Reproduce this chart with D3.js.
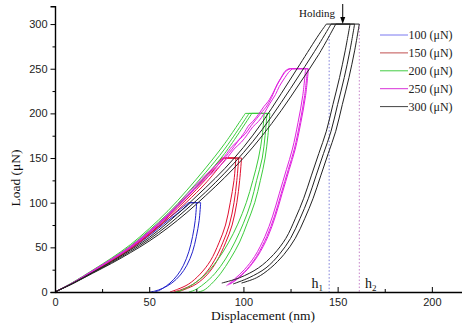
<!DOCTYPE html>
<html>
<head>
<meta charset="utf-8">
<script src="https://cdn.jsdelivr.net/npm/d3@7"></script>
<style>
  html, body { margin: 0; padding: 0; background: #fff; }
  svg { display: block; }
</style>
</head>
<body>
<svg id="chart" width="462" height="324"></svg>
<script>
// Nanoindentation load–displacement loops at five peak loads.
// Each curve: loading branch [h (nm), P (μN)], then unloading branch from end of hold.

const peakLoads = [100, 150, 200, 250, 300];
const legendLabels = ["100 (\u03bcN)", "150 (\u03bcN)", "200 (\u03bcN)", "250 (\u03bcN)", "300 (\u03bcN)"];
const xTicks = [0, 50, 100, 150, 200];
const yTicks = [0, 50, 100, 150, 200, 250, 300];

const load100 = [
  [[0,0],[10,11],[20,23],[30,35.5],[40,49],[50,65],[60,82],[66,92],[70.8,100]],
  [[0,0],[10,10.5],[20,22.5],[30,34.5],[40,48],[50,63],[60,80],[67,91],[72,100]]
];
const unload100 = [
  [[77.3,100],[76.5,80],[75,62],[73,45],[70,30],[66.5,19],[62,10],[57,4],[53,1],[50.5,0]],
  [[75.2,100],[74.4,80],[73,62],[71,45],[68.2,30],[65,19],[61,10],[57.5,4.5],[55,1.5],[53,0]]
];

const load150 = [
  [[0,0],[10,11],[20,23.5],[30,36],[40,50],[50,67],[60,86],[70,107],[80,129],[88.5,150]],
  [[0,0],[10,10.5],[20,23],[30,35],[40,49],[50,65],[60,84],[70,104],[80,126],[89.5,150]],
  [[0,0],[10,10.5],[20,22.5],[30,34.5],[40,48],[50,64],[60,82],[70,101],[80,122],[91,150]]
];
const unload150 = [
  [[99,150],[98,125],[96.5,100],[94,75],[90.5,55],[86,35],[81,20],[75,9],[69,3],[65,0]],
  [[97.5,150],[96.5,125],[95,100],[92.5,75],[89,55],[84.5,35],[79.5,20],[73.5,9],[67.5,3],[63,0]],
  [[96,150],[95,125],[93,100],[90.5,75],[87,55],[82.5,35],[77,20],[71,9],[65,3],[61,0]]
];

const load200 = [
  [[0,0],[10,11.5],[20,24.5],[30,38],[40,53],[50,71],[60,91],[70,114],[80,139],[90,166],[101,200]],
  [[0,0],[10,11],[20,24],[30,37],[40,51.5],[50,69],[60,88],[70,110],[80,134],[90,160],[103,200]],
  [[0,0],[10,11],[20,23.5],[30,36],[40,50],[50,67],[60,86],[70,107],[80,130],[90,155],[104.5,200]]
];
const unload200 = [
  [[114,200],[113,175],[111.5,150],[109,125],[106,100],[102,77],[98,56],[93,37],[88,21],[83,9],[79,2],[76,0]],
  [[112.5,200],[111.5,175],[110,150],[107,125],[104,100],[100,77],[95.5,56],[90.5,37],[85,21],[79,9],[74,2],[71,0]],
  [[111,200],[110,175],[108,150],[105,125],[101.5,100],[97,76],[92,55],[86,35],[79,18],[72,7],[66,1],[64,0]]
];

const load250 = [
  [[0,0],[10,11],[20,24],[30,37],[40,51],[50,68],[60,87],[70,109],[78,127],[85,141],[90,152],[94,163],[97,169],[100,177],[103,187],[105,191],[108,199],[111,208],[113,213],[116,224],[118,233],[120,240],[122,247],[124,250]],
  [[0,0],[10,11],[20,23.5],[30,36.5],[40,50],[50,67],[60,86],[70,107],[78,125],[85,139],[90,150],[94,160],[98,171],[101,177],[104,186],[107,194],[110,202],[112,207],[115,218],[117,228],[119,236],[121,243],[123,248],[125,250]],
  [[0,0],[10,10.5],[20,23],[30,36],[40,49.5],[50,66],[60,85],[70,106],[78,123],[86,138],[91,149],[95,160],[99,168],[102,176],[105,185],[108,191],[111,200],[114,211],[117,221],[119,230],[122,240],[124,246],[126,250]]
];
const unload250 = [
  [[134,250],[132.5,220],[130,190],[127,160],[123.8,137],[120,110],[116.5,85],[112.4,62],[107,40],[101.7,25],[96,14],[92,8]],
  [[133,250],[131.5,220],[129,190],[126,160],[122.8,137],[119,110],[115.5,85],[111.4,62],[106,40],[100.5,25],[95,14],[91,7]],
  [[134.5,250],[133,220],[130.5,190],[127.5,160],[124.3,137],[120.5,110],[117,85],[113,62],[107.5,40],[102,25],[96.5,14],[93,9]]
];

const load300 = [
  [[0,0],[10,10.5],[20,22],[30,34],[40,47],[50,61],[60,78],[70,97],[80,117],[90,138],[100,162],[110,190],[120,222],[130,255],[140,288],[144,300]],
  [[0,0],[10,10],[20,21.5],[30,33],[40,45.5],[50,59],[60,75],[70,93],[80,112],[90,133],[100,156],[110,182],[120,212],[130,244],[140,277],[146.5,300]],
  [[0,0],[10,10],[20,21],[30,32],[40,44],[50,57],[60,72],[70,89],[80,108],[90,128],[100,150],[110,175],[120,203],[130,234],[140,266],[149,300]]
];
const unload300 = [
  [[156.6,300],[154,270],[151,240],[147.5,210],[144,180],[140,155],[136,130],[132,105],[127.5,82],[122.5,60],[116,42],[108,27],[98,16],[88.5,10]],
  [[159,300],[156.5,270],[153.5,240],[150,210],[146.5,180],[142.5,155],[138.5,130],[134.5,105],[130,82],[125,60],[119,42],[112,27],[103,16],[94.5,9]],
  [[161.5,300],[159,270],[156,240],[152.5,210],[149,180],[145,155],[141,130],[137,105],[132.5,82],[127.5,60],[121.5,42],[114.5,27],[107,16],[99,10]]
];

// Marked depths h1, h2 and the holding arrow position (nm)
const depthMarks = [145.5, 161.5];
const holdingAt = 152.7;

const colors = ["#2323cc", "#e01030", "#3ccc3c", "#e020e0", "#222222"];
const legendColors = ["#7a78f0", "#c05050", "#44cc44", "#d830d8", "#444444"];
const loadSets = [load100, load150, load200, load250, load300];
const unloadSets = [unload100, unload150, unload200, unload250, unload300];

const svg = d3.select("#chart");
const x = d3.scaleLinear().domain([0, 216]).range([55, 462]);
const y = d3.scaleLinear().domain([0, 320]).range([292, 6.2]);

const smooth = d3.line().x(d => x(d[0])).y(d => y(d[1])).curve(d3.curveCatmullRom.alpha(0.5));
const straight = d3.line().x(d => x(d[0])).y(d => y(d[1]));

// Dotted depth markers
svg.append("line").attr("x1", x(depthMarks[0])).attr("x2", x(depthMarks[0]))
  .attr("y1", y(287)).attr("y2", y(0))
  .attr("stroke", "#7c7cd8").attr("stroke-width", 1).attr("stroke-dasharray", "1.5,2");
svg.append("line").attr("x1", x(depthMarks[1])).attr("x2", x(depthMarks[1]))
  .attr("y1", y(300)).attr("y2", y(0))
  .attr("stroke", "#c580c8").attr("stroke-width", 1).attr("stroke-dasharray", "1.5,2");

// Curves
const curveG = svg.append("g").attr("fill", "none").attr("stroke-width", 1);
peakLoads.forEach((pmax, i) => {
  const g = curveG.append("g").attr("stroke", colors[i]);
  loadSets[i].forEach((ld, k) => {
    const ul = unloadSets[i][k];
    g.append("path").attr("d", smooth(ld));
    g.append("path").attr("d", straight([ld[ld.length - 1], ul[0]]));
    g.append("path").attr("d", smooth(ul));
  });
});

// Axes
const font = "'Liberation Sans', Arial, sans-serif";
const serif = "'Liberation Serif', 'Times New Roman', serif";

const yMinor = d3.range(25, 325, 50);
const xMinor = d3.range(25, 225, 50);

const yAxis = svg.append("g").attr("transform", "translate(55,0)")
  .call(d3.axisLeft(y).tickValues(yTicks).tickSize(4.5).tickPadding(3).tickFormat(d3.format("d")));
const yAxisMinor = svg.append("g").attr("transform", "translate(55,0)")
  .call(d3.axisLeft(y).tickValues(yMinor).tickSize(2.5).tickFormat(""));
yAxisMinor.select(".domain").remove();

const xAxis = svg.append("g").attr("transform", "translate(0,292)")
  .call(d3.axisBottom(x).tickValues(xTicks).tickSizeInner(-5).tickSizeOuter(0).tickPadding(6).tickFormat(d3.format("d")));
const xAxisMinor = svg.append("g").attr("transform", "translate(0,292)")
  .call(d3.axisBottom(x).tickValues(xMinor).tickSizeInner(-3).tickSizeOuter(0).tickFormat(""));
xAxisMinor.select(".domain").remove();

[yAxis, xAxis].forEach(a => {
  a.select(".domain").attr("stroke", "#000").attr("stroke-width", 1.4);
  a.selectAll("text").attr("font-family", font).attr("font-size", 11).attr("fill", "#222");
});
svg.selectAll(".tick line").attr("stroke", "#000").attr("stroke-width", 1);

// Axis titles
svg.append("text").attr("x", 263).attr("y", 320).attr("text-anchor", "middle")
  .attr("font-family", serif).attr("font-size", 13.5).attr("fill", "#111")
  .text("Displacement (nm)");
svg.append("text").attr("transform", "translate(20,178) rotate(-90)").attr("text-anchor", "middle")
  .attr("font-family", serif).attr("font-size", 13.5).attr("fill", "#111")
  .text("Load (\u03bcN)");

// Legend
const legend = svg.append("g");
legendLabels.forEach((lab, i) => {
  const yy = 35 + i * 17.9;
  legend.append("line").attr("x1", 380).attr("x2", 408).attr("y1", yy).attr("y2", yy)
    .attr("stroke", legendColors[i]).attr("stroke-width", 1);
  legend.append("text").attr("x", 408.5).attr("y", yy + 4).attr("font-family", serif)
    .attr("font-size", 12).attr("fill", "#222").text(lab);
});

// Holding annotation
svg.append("text").attr("x", 299).attr("y", 17).attr("font-family", serif)
  .attr("font-size", 11).attr("fill", "#111").text("Holding");
const ax = x(holdingAt);
svg.append("line").attr("x1", ax).attr("x2", ax).attr("y1", 4).attr("y2", 20)
  .attr("stroke", "#000").attr("stroke-width", 1);
svg.append("path").attr("d", `M${ax - 2.5},17 L${ax + 2.5},17 L${ax},24 Z`).attr("fill", "#000");

// h1, h2 labels
[["1", 311.5], ["2", 365]].forEach(([sub, xx]) => {
  const t = svg.append("text").attr("x", xx).attr("y", 288).attr("font-family", serif)
    .attr("font-size", 14).attr("fill", "#111");
  t.append("tspan").text("h");
  t.append("tspan").attr("font-size", 9).attr("dy", 3).text(sub);
});
</script>
</body>
</html>
